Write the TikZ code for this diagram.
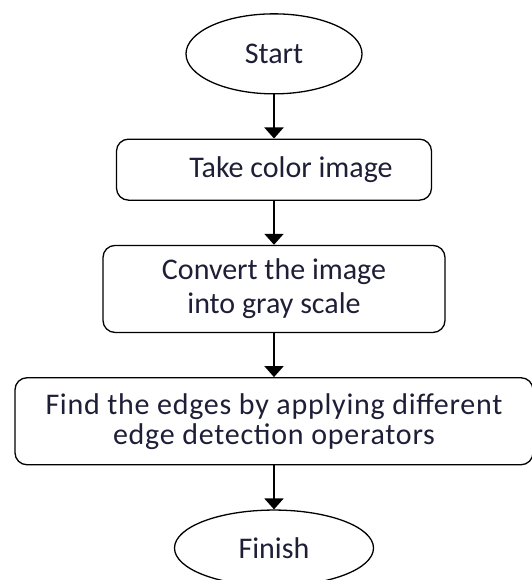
\documentclass[tikz,border=0pt]{standalone}
\usepackage{fontspec}
\setmainfont{Carlito}
\newfontfamily\widefont[LetterSpace=2.5]{Carlito}
\usetikzlibrary{shapes.geometric, arrows.meta}
\definecolor{inknavy}{RGB}{30,30,55}

\begin{document}
\begin{tikzpicture}
  [x=1pt, y=1pt,
  font=\fontsize{30}{34}\selectfont, text=inknavy,
  block/.style={rectangle, draw=black, line width=1.3pt,
  align=center, rounded corners=12pt, inner sep=0pt},
  terminal/.style={ellipse, draw=black, line width=1.3pt, inner sep=0pt},
  line/.style={draw, line width=2pt, -{Triangle[width=19pt,length=11pt]}}]

  \useasboundingbox (0,0) rectangle (531,-580);

  \matrix [anchor=north, inner sep=0pt, row sep=44pt] at (274,-13)
  {
    \node [terminal, minimum width=176pt, minimum height=80pt] (start) {Start}; \\
    \node [block, minimum width=315pt, minimum height=61pt] (take) {\hspace*{34pt}Take color image}; \\
    \node [block, minimum width=342pt, minimum height=87pt] (gray) {Convert the image\\into gray scale}; \\
    \node [block, minimum width=518pt, minimum height=87pt,
      font=\widefont\fontsize{30}{30}\selectfont] (edges) {Find the edges by applying different\\edge detection operators}; \\
    \node [terminal, minimum width=199pt, minimum height=76pt] (finish) {Finish}; \\
  };
  \begin{scope}[every path/.style=line]
    \path (start) -- (take);
    \path (take) -- (gray);
    \path (gray) -- (edges);
    \path (edges) -- (finish);
  \end{scope}
\end{tikzpicture}
\end{document}
